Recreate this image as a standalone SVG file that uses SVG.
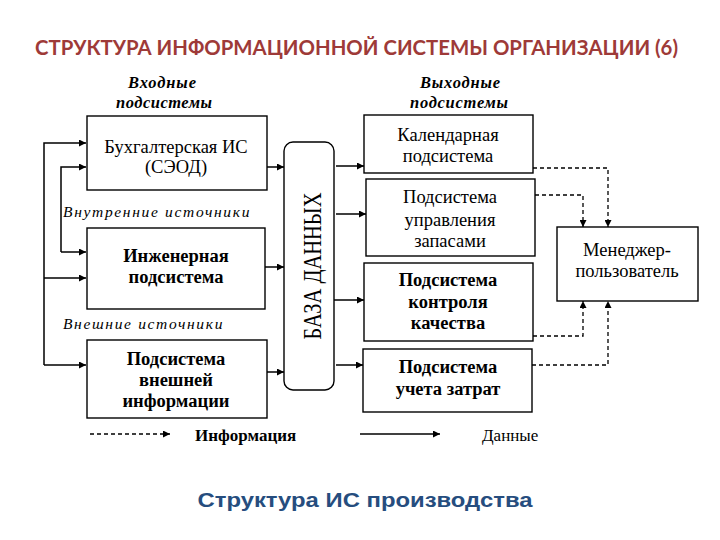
<svg xmlns="http://www.w3.org/2000/svg" width="720" height="540" viewBox="0 0 720 540">
<style>
.box{fill:#fff;stroke:#000;stroke-width:1.4}
.t{font-family:"Liberation Serif","Times New Roman",serif;font-size:18.5px;fill:#000;text-anchor:middle}
.b{font-weight:bold}
.hd{font-family:"Liberation Serif",serif;font-size:16.5px;font-style:italic;font-weight:bold;text-anchor:middle}
.src{font-family:"Liberation Serif",serif;font-size:15.5px;font-style:italic;letter-spacing:0.6px}
.sl{fill:none;stroke:#000;stroke-width:1.5}
.dl{fill:none;stroke:#000;stroke-width:1.3;stroke-dasharray:4 3}
</style>
<defs>
<marker id="ah" viewBox="0 0 10 10" refX="10" refY="5" markerWidth="9" markerHeight="7" markerUnits="userSpaceOnUse" orient="auto">
<path d="M0,0 L10,5 L0,10 Z" fill="#000"/>
</marker>
</defs>
<rect width="720" height="540" fill="#fff"/>
<text x="356.5" y="55" font-family="Lato,'Open Sans',sans-serif" font-weight="bold" font-size="20" fill="#9E3A38" text-anchor="middle" textLength="643" lengthAdjust="spacingAndGlyphs">СТРУКТУРА ИНФОРМАЦИОННОЙ СИСТЕМЫ ОРГАНИЗАЦИИ (6)</text>

<text class="hd" x="162" y="88" textLength="68">Входные</text>
<text class="hd" x="164" y="108" textLength="96">подсистемы</text>
<text class="hd" x="460" y="88" textLength="80">Выходные</text>
<text class="hd" x="459" y="108" textLength="98">подсистемы</text>
<text class="src" x="63" y="217" textLength="187">Внутренние источники</text>
<text class="src" x="63" y="329" textLength="160">Внешние источники</text>

<g id="connectors">
<polyline class="sl" points="44,365 44,143 86,143" marker-end="url(#ah)"/>
<line class="sl" x1="44" y1="278" x2="86" y2="278" marker-end="url(#ah)"/>
<line class="sl" x1="44" y1="365" x2="86" y2="365" marker-end="url(#ah)"/>
<polyline class="sl" points="61,252 61,167 86,167" marker-end="url(#ah)"/>
<line class="sl" x1="61" y1="252" x2="86" y2="252" marker-end="url(#ah)"/>
<line class="sl" x1="267" y1="167" x2="284" y2="167" marker-end="url(#ah)"/>
<line class="sl" x1="265" y1="267" x2="284" y2="267" marker-end="url(#ah)"/>
<line class="sl" x1="267" y1="372" x2="284" y2="372" marker-end="url(#ah)"/>
<line class="sl" x1="336" y1="166" x2="364" y2="166" marker-end="url(#ah)"/>
<line class="sl" x1="336" y1="214" x2="366" y2="214" marker-end="url(#ah)"/>
<line class="sl" x1="334" y1="300" x2="364" y2="300" marker-end="url(#ah)"/>
<line class="sl" x1="336" y1="365" x2="363" y2="365" marker-end="url(#ah)"/>
<polyline class="dl" points="533,168 608,168 608,227" marker-end="url(#ah)"/>
<polyline class="dl" points="535,195 583,195 583,227" marker-end="url(#ah)"/>
<polyline class="dl" points="533,336 583,336 583,301" marker-end="url(#ah)"/>
<polyline class="dl" points="532,365 608,365 608,301" marker-end="url(#ah)"/>
</g>

<g id="n-buh">
<rect class="box" x="87" y="116" width="180" height="74"/>
<text class="t" x="176" y="153">Бухгалтерская ИС</text>
<text class="t" x="176" y="173">(СЭОД)</text>
</g>
<g id="n-eng">
<rect class="box" x="87" y="228" width="178" height="81"/>
<text class="t b" x="176" y="262">Инженерная</text>
<text class="t b" x="176" y="283">подсистема</text>
</g>
<g id="n-ext">
<rect class="box" x="87" y="340" width="180" height="78"/>
<text class="t b" x="176" y="365">Подсистема</text>
<text class="t b" x="176" y="386">внешней</text>
<text class="t b" x="176" y="407">информации</text>
</g>
<g id="n-db">
<rect class="box" x="284" y="142" width="50" height="248" rx="9"/>
<text x="0" y="0" transform="translate(321,266) rotate(-90)" font-family="'Liberation Serif',serif" font-size="25" text-anchor="middle" textLength="147" lengthAdjust="spacingAndGlyphs">БАЗА ДАННЫХ</text>
</g>
<g id="n-cal">
<rect class="box" x="364" y="115" width="169" height="58"/>
<text class="t" x="448" y="141">Календарная</text>
<text class="t" x="448" y="162">подсистема</text>
</g>
<g id="n-zap">
<rect class="box" x="366" y="179" width="169" height="77"/>
<text class="t" x="450" y="203">Подсистема</text>
<text class="t" x="450" y="226">управления</text>
<text class="t" x="450" y="247">запасами</text>
</g>
<g id="n-kach">
<rect class="box" x="364" y="263" width="169" height="78"/>
<text class="t b" x="448" y="286">Подсистема</text>
<text class="t b" x="448" y="308">контроля</text>
<text class="t b" x="448" y="329">качества</text>
</g>
<g id="n-zatr">
<rect class="box" x="363" y="349" width="169" height="63"/>
<text class="t b" x="448" y="373">Подсистема</text>
<text class="t b" x="448" y="395">учета затрат</text>
</g>
<g id="n-man">
<rect class="box" x="557" y="227" width="141" height="74"/>
<text class="t" x="627" y="256">Менеджер-</text>
<text class="t" x="627" y="277">пользователь</text>
</g>

<g id="legend">
<line class="dl" x1="90" y1="434" x2="170" y2="434" marker-end="url(#ah)"/>
<text class="t b" x="195" y="441" style="text-anchor:start;font-size:17px">Информация</text>
<line class="sl" x1="360" y1="434" x2="440" y2="434" marker-end="url(#ah)"/>
<text class="t" x="482" y="441" style="text-anchor:start;font-size:17px">Данные</text>
</g>

<text x="365" y="507" font-family="'Liberation Sans',Arial,sans-serif" font-weight="bold" font-size="20" fill="#264D7E" text-anchor="middle" textLength="335" lengthAdjust="spacingAndGlyphs">Структура ИС производства</text>
</svg>
